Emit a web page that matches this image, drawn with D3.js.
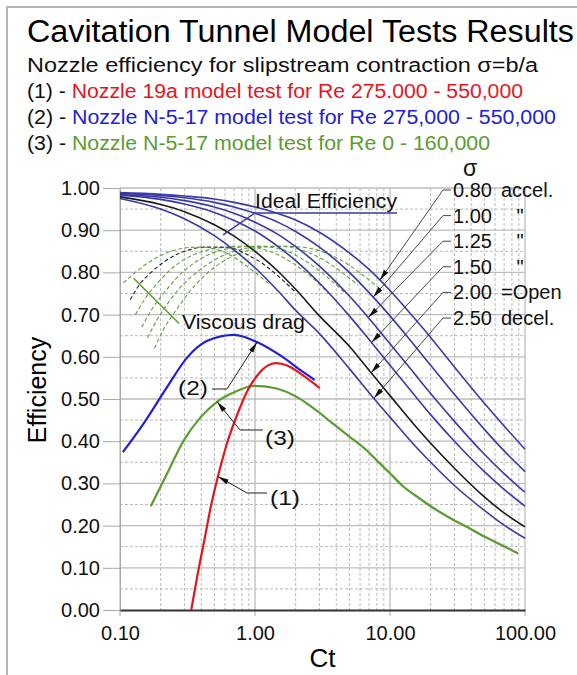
<!DOCTYPE html>
<html>
<head>
<meta charset="utf-8">
<script src="https://cdn.jsdelivr.net/npm/d3@7/dist/d3.min.js"></script>
<style>
body { margin: 0; background: #fff; }
svg { display: block; font-family: "Liberation Sans", Arial, sans-serif; }
</style>
</head>
<body>
<script>
// ---- data ----
const ctGrid = [0.1, 0.2, 0.3, 0.5, 0.7, 1, 1.5, 2, 3, 5, 7, 10, 15, 20, 30, 50, 70, 100]

const sigmaNames = ['0.80', '1.00', '1.25', '1.50', '2.00', '2.50']
const sigmaNotes = ['accel.', '"', '"', '"', '=Open', 'decel.']
const ideal080 = [0.989, 0.985, 0.981, 0.974, 0.966, 0.955, 0.939, 0.924, 0.895, 0.846, 0.807, 0.757, 0.693, 0.646, 0.576, 0.490, 0.436, 0.381]
const ideal100 = [0.987, 0.982, 0.977, 0.966, 0.955, 0.940, 0.918, 0.897, 0.860, 0.800, 0.752, 0.697, 0.629, 0.580, 0.511, 0.428, 0.377, 0.328]
const ideal125 = [0.985, 0.978, 0.970, 0.955, 0.940, 0.919, 0.889, 0.861, 0.815, 0.744, 0.691, 0.631, 0.562, 0.513, 0.447, 0.369, 0.323, 0.279]
const ideal150 = [0.983, 0.973, 0.962, 0.942, 0.923, 0.898, 0.860, 0.828, 0.775, 0.697, 0.641, 0.580, 0.511, 0.463, 0.400, 0.328, 0.286, 0.246]
const ideal200 = [0.979, 0.961, 0.944, 0.913, 0.886, 0.850, 0.801, 0.760, 0.697, 0.625, 0.568, 0.508, 0.440, 0.395, 0.336, 0.268, 0.230, 0.197]
const ideal250 = [0.975, 0.950, 0.927, 0.887, 0.853, 0.811, 0.754, 0.710, 0.655, 0.572, 0.515, 0.457, 0.392, 0.350, 0.295, 0.236, 0.201, 0.170]
const idealCurves = [ideal080, ideal100, ideal125, ideal150, ideal200, ideal250]
// where each sigma arrow touches its curve (Ct)
const sigmaArrowCt = [8.4, 7.5, 6.9, 7.3, 7.25, 7.6]

// viscous drag arcs (dashed), one per sigma
const dragCt = [
    [0.18, 0.21, 0.26, 0.32, 0.4, 0.5, 0.65, 0.85, 1.15, 1.6, 2.2, 3.1, 4.4, 6.2, 8.5],
    [0.16, 0.19, 0.23, 0.29, 0.37, 0.47, 0.6, 0.8, 1.1, 1.5, 2.1, 3.0, 4.2, 5.8],
    [0.145, 0.17, 0.21, 0.26, 0.33, 0.42, 0.54, 0.7, 0.95, 1.3, 1.8, 2.5, 3.4, 4.6],
    [0.13, 0.155, 0.19, 0.23, 0.29, 0.37, 0.47, 0.6, 0.8, 1.05, 1.4, 1.9, 2.6, 3.5],
    [0.119, 0.14, 0.17, 0.21, 0.26, 0.33, 0.42, 0.55, 0.7, 0.9, 1.15, 1.5, 2.0],
    [0.106, 0.13, 0.16, 0.2, 0.25, 0.32, 0.4, 0.5, 0.62, 0.78, 1.0, 1.3]
]
const dragEff = [
    [0.62, 0.665, 0.71, 0.75, 0.785, 0.812, 0.835, 0.85, 0.86, 0.862, 0.86, 0.85, 0.828, 0.795, 0.76],
    [0.645, 0.69, 0.73, 0.77, 0.80, 0.824, 0.842, 0.855, 0.862, 0.862, 0.855, 0.835, 0.805, 0.77],
    [0.67, 0.71, 0.75, 0.785, 0.815, 0.837, 0.851, 0.858, 0.862, 0.86, 0.848, 0.822, 0.79, 0.752],
    [0.70, 0.74, 0.775, 0.803, 0.828, 0.845, 0.855, 0.86, 0.862, 0.858, 0.845, 0.822, 0.79, 0.75],
    [0.735, 0.772, 0.80, 0.824, 0.842, 0.854, 0.86, 0.86, 0.856, 0.84, 0.82, 0.79, 0.753],
    [0.775, 0.80, 0.822, 0.84, 0.852, 0.859, 0.86, 0.856, 0.845, 0.826, 0.80, 0.77]
]

// (1) Nozzle 19a, Re 275,000 - 550,000
const nozzle19aCt = [0.337, 0.373, 0.419, 0.47, 0.542, 0.625, 0.743, 0.881, 1.047, 1.24, 1.43, 1.75, 2.2, 3.02]
const nozzle19aEff = [0.0, 0.079, 0.161, 0.244, 0.327, 0.398, 0.465, 0.520, 0.557, 0.579, 0.585, 0.579, 0.559, 0.526]
// (2) N-5-17, Re 275,000 - 550,000
const n517hiCt = [0.105, 0.149, 0.223, 0.314, 0.443, 0.70, 1.05, 1.56, 2.2, 2.77]
const n517hiEff = [0.374, 0.441, 0.528, 0.598, 0.638, 0.652, 0.634, 0.602, 0.567, 0.545]
// (3) N-5-17, Re 0 - 160,000
const n517loCt = [0.169, 0.223, 0.297, 0.396, 0.526, 0.70, 0.99, 1.39, 2.11, 2.82, 3.76, 5.0, 6.68, 8.18, 10, 12.6, 15.8, 21.1, 28.2, 37.6, 50, 66.8, 89]
const n517loEff = [0.246, 0.323, 0.402, 0.457, 0.494, 0.516, 0.531, 0.526, 0.502, 0.474, 0.442, 0.411, 0.379, 0.351, 0.324, 0.292, 0.269, 0.241, 0.217, 0.196, 0.174, 0.154, 0.134]

const xTicks = [0.1, 1, 10, 100]
const yTicks = [0, 0.1, 0.2, 0.3, 0.4, 0.5, 0.6, 0.7, 0.8, 0.9, 1.0]

// ---- drawing ----
const width = 577
const height = 675
const RED = '#e8141c'
const BLUE = '#2020d8'
const NAVY = '#3a3aa6'
const GREEN = '#5a9c30'

const svg = d3.select('body').append('svg')
    .attr('width', width)
    .attr('height', height)

const x = d3.scaleLog().domain([0.1, 100]).range([120, 525])
const y = d3.scaleLinear().domain([0, 1]).range([610, 188])

const defs = svg.append('defs')
defs.append('marker')
    .attr('id', 'arrow')
    .attr('viewBox', '0 -3 11 6')
    .attr('refX', 11)
    .attr('refY', 0)
    .attr('markerWidth', 11)
    .attr('markerHeight', 6)
    .attr('markerUnits', 'userSpaceOnUse')
    .attr('orient', 'auto')
    .append('path')
    .attr('d', 'M0,-2.6L11,0L0,2.6Z')
    .attr('fill', '#111')

// frame
svg.append('path')
    .attr('d', 'M7,675V7H577')
    .attr('fill', 'none')
    .attr('stroke', '#b4b4b4')
    .attr('stroke-width', 2)

// grid
const grid = svg.append('g')
const minorX = []
for (const dec of [0.1, 1, 10]) {
    for (let m = 2; m <= 9; m++) minorX.push(dec * m)
}
grid.selectAll('.vminor')
    .data(minorX)
    .enter().append('line')
    .attr('x1', d => x(d)).attr('x2', d => x(d))
    .attr('y1', y(1)).attr('y2', y(0))
    .attr('stroke', '#b9b9b9')
    .attr('stroke-dasharray', '3,2')
grid.selectAll('.vmajor')
    .data(xTicks)
    .enter().append('line')
    .attr('x1', d => x(d)).attr('x2', d => x(d))
    .attr('y1', y(1)).attr('y2', y(0) + 6)
    .attr('stroke', '#a8a8a8')
grid.selectAll('.hminor')
    .data(d3.range(0.05, 1, 0.1))
    .enter().append('line')
    .attr('x1', x(0.1)).attr('x2', x(100))
    .attr('y1', d => y(d)).attr('y2', d => y(d))
    .attr('stroke', '#b9b9b9')
    .attr('stroke-dasharray', '3,2')
grid.selectAll('.hmajor')
    .data(yTicks.slice(1))
    .enter().append('line')
    .attr('x1', x(0.1)).attr('x2', x(100))
    .attr('y1', d => y(d)).attr('y2', d => y(d))
    .attr('stroke', '#bcbcbc')
    .attr('stroke-width', 1.3)

// axes
const yAxis = svg.append('g')
    .attr('transform', `translate(${x(0.1)},0)`)
    .call(d3.axisLeft(y).tickValues(yTicks).tickFormat(d3.format('.2f')).tickSize(17).tickPadding(3))
yAxis.select('.domain').attr('stroke', '#a8a8a8')
yAxis.selectAll('.tick line').attr('stroke', '#a8a8a8')
yAxis.selectAll('text').attr('font-size', 20).attr('fill', '#111')
    .attr('font-family', '"Liberation Sans", Arial, sans-serif')

const xAxis = svg.append('g')
    .attr('transform', `translate(0,${y(0)})`)
    .call(d3.axisBottom(x).tickValues(xTicks).tickFormat(d3.format('.2f')).tickSize(0).tickPadding(16))
xAxis.select('.domain').attr('stroke', '#333').attr('stroke-width', 2)
xAxis.selectAll('text').attr('font-size', 20).attr('fill', '#111')
    .attr('font-family', '"Liberation Sans", Arial, sans-serif')

svg.append('text')
    .attr('x', (x(0.1) + x(100)) / 2)
    .attr('y', 667)
    .attr('text-anchor', 'middle')
    .attr('font-size', 26)
    .text('Ct')

svg.append('text')
    .attr('transform', 'translate(46,390) rotate(-90)')
    .attr('text-anchor', 'middle')
    .attr('font-size', 25)
    .text('Efficiency')

const line = d3.line()
    .x(d => x(d[0]))
    .y(d => y(d[1]))
    .curve(d3.curveMonotoneX)

const pairs = (cts, vals) => cts.map((c, i) => [c, vals[i]])

// viscous drag arcs
const arcs = svg.append('g')
dragCt.forEach((cts, i) => {
    arcs.append('path')
        .attr('d', line(pairs(cts, dragEff[i])))
        .attr('fill', 'none')
        .attr('stroke', i === 4 ? '#222' : '#62a03c')
        .attr('stroke-width', 1.1)
        .attr('stroke-dasharray', '4,2.5')
})

// ideal efficiency curves
svg.append('g').selectAll('path')
    .data(idealCurves)
    .enter().append('path')
    .attr('d', d => line(pairs(ctGrid, d)))
    .attr('fill', 'none')
    .attr('stroke', (d, i) => i === 4 ? '#1a1a1a' : NAVY)
    .attr('stroke-width', 1.6)

// model test curves
const tests = [
    {cts: n517loCt, vals: n517loEff, color: GREEN},
    {cts: n517hiCt, vals: n517hiEff, color: BLUE},
    {cts: nozzle19aCt, vals: nozzle19aEff, color: RED}
]
svg.append('g').selectAll('path')
    .data(tests)
    .enter().append('path')
    .attr('d', d => line(pairs(d.cts, d.vals)))
    .attr('fill', 'none')
    .attr('stroke', d => d.color)
    .attr('stroke-width', 2.2)

// value of a curve at Ct, linear in log(Ct)
function valueAt(cts, vals, c) {
    const lc = Math.log10(c)
    for (let i = 1; i < cts.length; i++) {
        if (c <= cts[i]) {
            const a = Math.log10(cts[i - 1])
            const b = Math.log10(cts[i])
            return vals[i - 1] + (vals[i] - vals[i - 1]) * (lc - a) / (b - a)
        }
    }
    return vals[vals.length - 1]
}

// sigma labels and arrows
const ann = svg.append('g').attr('font-size', 20).attr('fill', '#111')
ann.append('text')
    .attr('x', 470).attr('y', 176)
    .attr('text-anchor', 'middle')
    .attr('font-size', 23)
    .text('σ')
const labelY0 = 197
const labelStep = 25.6
sigmaNames.forEach((s, i) => {
    const by = labelY0 + i * labelStep
    ann.append('text').attr('x', 453).attr('y', by).text(s)
    const note = ann.append('text').attr('y', by).text(sigmaNotes[i])
    if (sigmaNotes[i] === '"') {
        note.attr('x', 520).attr('text-anchor', 'middle')
    } else {
        note.attr('x', 501)
    }
    const tx = x(sigmaArrowCt[i])
    const ty = y(valueAt(ctGrid, idealCurves[i], sigmaArrowCt[i]))
    ann.append('path')
        .attr('d', `M451,${by - 7}H443L${tx},${ty}`)
        .attr('fill', 'none')
        .attr('stroke', '#333')
        .attr('stroke-width', 0.9)
        .attr('marker-end', 'url(#arrow)')
})

// Ideal Efficiency label with leader
ann.append('text')
    .attr('x', 255).attr('y', 208)
    .attr('textLength', 142).attr('lengthAdjust', 'spacingAndGlyphs')
    .text('Ideal Efficiency')
ann.append('path')
    .attr('d', `M397,213H255L${x(0.58)},${y(0.889)}`)
    .attr('fill', 'none')
    .attr('stroke', NAVY)
    .attr('stroke-width', 1.5)

// Viscous drag label with leader
ann.append('text')
    .attr('x', 182).attr('y', 329)
    .attr('font-size', 21)
    .attr('textLength', 123).attr('lengthAdjust', 'spacingAndGlyphs')
    .text('Viscous drag')
ann.append('line')
    .attr('x1', x(0.126)).attr('y1', y(0.786))
    .attr('x2', x(0.274)).attr('y2', y(0.679))
    .attr('stroke', GREEN)
    .attr('stroke-width', 1.5)

// (1) (2) (3) callouts
const callouts = [
    {label: '(2)', tx: 178, ty: 395, hx: [212, 227], hy: 389, cts: n517hiCt, vals: n517hiEff, c: 1.035},
    {label: '(3)', tx: 265, ty: 445, hx: [263, 240], hy: 430, cts: n517loCt, vals: n517loEff, c: 0.524},
    {label: '(1)', tx: 270, ty: 505, hx: [267, 247], hy: 493, cts: nozzle19aCt, vals: nozzle19aEff, c: 0.532}
]
callouts.forEach(d => {
    ann.append('text')
        .attr('x', d.tx).attr('y', d.ty)
        .attr('font-size', 21)
        .attr('textLength', 30).attr('lengthAdjust', 'spacingAndGlyphs')
        .text(d.label)
    ann.append('path')
        .attr('d', `M${d.hx[0]},${d.hy}H${d.hx[1]}L${x(d.c)},${y(valueAt(d.cts, d.vals, d.c))}`)
        .attr('fill', 'none')
        .attr('stroke', '#222')
        .attr('stroke-width', 1)
        .attr('marker-end', 'url(#arrow)')
})

// title and legend
svg.append('text')
    .attr('x', 27).attr('y', 42)
    .attr('font-size', 31)
    .attr('textLength', 547).attr('lengthAdjust', 'spacingAndGlyphs')
    .text('Cavitation Tunnel Model Tests Results')

const legendRows = [
    {prefix: '', text: 'Nozzle efficiency for slipstream contraction σ=b/a', color: '#111', w: 511},
    {prefix: '(1) - ', text: 'Nozzle 19a model test for Re 275.000 - 550,000', color: RED, w: 496},
    {prefix: '(2) - ', text: 'Nozzle N-5-17 model test for Re 275,000 - 550,000', color: BLUE, w: 529},
    {prefix: '(3) - ', text: 'Nozzle N-5-17 model test for Re 0 - 160,000', color: GREEN, w: 463}
]
legendRows.forEach((r, i) => {
    const t = svg.append('text')
        .attr('x', 27).attr('y', 71.5 + i * 26.3)
        .attr('font-size', 20)
        .attr('textLength', r.w).attr('lengthAdjust', 'spacingAndGlyphs')
    if (r.prefix) t.append('tspan').attr('fill', '#111').text(r.prefix)
    t.append('tspan').attr('fill', r.color).text(r.text)
})
</script>
</body>
</html>
